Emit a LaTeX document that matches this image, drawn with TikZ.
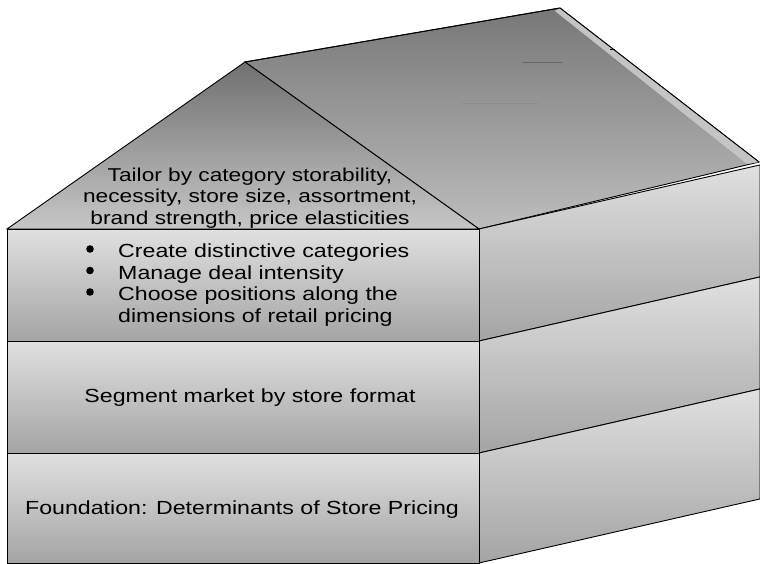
\documentclass[tikz,border=0pt]{standalone}
\usepackage{fontspec}
\setmainfont{Liberation Sans}[FakeStretch=1.22]
\usetikzlibrary{positioning}
\definecolor{faceTop}{HTML}{E0E0E0}
\definecolor{faceBot}{HTML}{A4A4A4}
\definecolor{gableTop}{HTML}{707070}
\definecolor{gableBot}{HTML}{C6C6C6}
\definecolor{roofTop}{HTML}{777777}
\definecolor{roofBot}{HTML}{BDBDBD}
\definecolor{roofRim}{HTML}{C4C4C4}

\begin{document}
\begin{tikzpicture}[
  x=1pt, y=-1pt,
  edge/.style={draw=black, line width=0.9pt},
  face/.style={edge, top color=faceTop, bottom color=faceBot},
  label/.style={font=\fontsize{19}{21.5}\selectfont, inner sep=0pt},
]
\useasboundingbox (0,0) rectangle (760,564);
% roof
\shade[edge, top color=roofTop, bottom color=roofBot]
  (245,62) -- (560,8) -- (759,162) -- (479,229) -- cycle;
\fill[roofRim] (560,8) -- (759,162) -- (747,164) -- (555,11) -- cycle;
\draw[edge] (245,62) -- (560,8) -- (759,162);
\draw[black!60, line width=0.6pt] (522,62) -- (562,62);
\draw[black!45, line width=0.4pt] (462,103) -- (538,103);
\draw[black, line width=0.8pt] (610,49) -- (615,49);
% gable
\shade[edge, top color=gableTop, bottom color=gableBot]
  (7,229) -- (245,62) -- (479,229) -- cycle;
% side faces
\begin{scope}[shift={(479,229)}, yslant=0.228]
  \foreach \y/\h in {0/112, 112/112, 224/110}
    \shade[face] (0,\y) rectangle (281,\y+\h);
\end{scope}
% front boxes
\foreach \y/\h in {229/112, 341/112, 453/110}
  \shade[face] (7,\y) rectangle (479,\y+\h);
% texts (base = last line)
\node[label, font=\fontsize{18.6}{21.5}\selectfont, align=center, anchor=base] (tailor) at (250,224)
  {Tailor by category storability,\\ necessity, store size, assortment,\\ brand strength, price elasticities};
\foreach \y in {249, 270.5, 292}
  \fill (90,\y) circle (3.8);
\node[label, align=left, anchor=base west] (tactics) at (118,322.3)
  {Create distinctive categories\\
   Manage deal intensity\\
   Choose positions along the\\
   dimensions of retail pricing};
\node[label, anchor=base] (segment) at (250,402.7) {Segment market by store format};
\node[label, anchor=base] (foundation) at (242,514) {Foundation: Determinants of Store Pricing};
\end{tikzpicture}
\end{document}
